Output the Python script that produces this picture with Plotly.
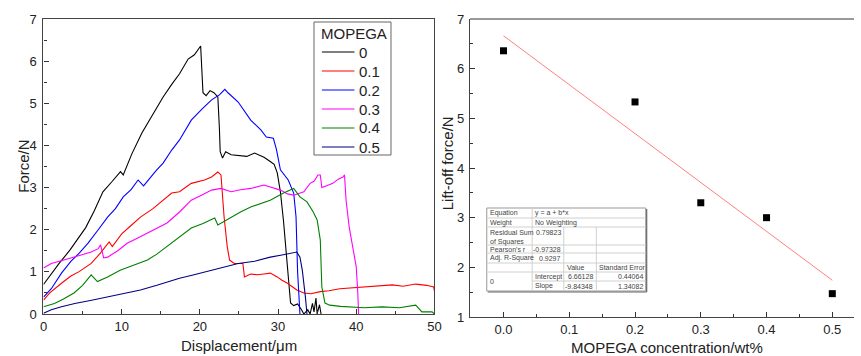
import plotly.graph_objects as go

# ---------------- data ----------------
series_names = ["0", "0.1", "0.2", "0.3", "0.4", "0.5"]
series_colors = ["#000000", "#ff0000", "#0000ff", "#ff00ff", "#008000", "#000080"]
legend_title = "MOPEGA"

x_0 = [0, 1, 2, 3.4, 4.5, 5.4, 6.5, 7.6, 8.8, 9.85, 10.2, 11.3, 12.6, 14, 15.3, 16.4, 17.4, 18.5, 19.3, 20.1,
       20.2, 20.4, 20.8, 21.3, 21.8, 22.3, 22.5, 22.6, 22.9, 23.3, 24, 25, 26, 27, 27.5, 28.2, 29, 29.5, 29.9,
       30.3, 30.7, 31.0, 31.3, 31.6, 32, 32.5, 33, 33.3, 33.8, 34.1, 34.4, 34.6, 34.85, 35.0, 35.3, 35.5]
f_0 = [0.7, 0.95, 1.2, 1.52, 1.8, 2.05, 2.45, 2.9, 3.15, 3.38, 3.3, 3.8, 4.3, 4.75, 5.15, 5.45, 5.7, 6.05, 6.15, 6.36,
       5.9, 5.25, 5.18, 5.3, 5.25, 5.15, 4.4, 3.85, 3.7, 3.85, 3.78, 3.76, 3.74, 3.82, 3.78, 3.72, 3.62, 3.55, 3.35,
       2.9, 2.2, 1.5, 0.8, 0.26, 0.2, 0.24, 0.1, 0.0, 0.1, 0.0, 0.25, 0.05, 0.38, 0.0, 0.22, 0.0]

x_01 = [0, 0.8, 2.3, 3.5, 4.5, 6.1, 7.3, 8.4, 8.8, 10, 11.2, 12.4, 14, 15.8, 16.4, 17.4, 18.9, 20.6, 21.5, 22.3,
        22.7, 23.1, 23.5, 23.8, 24.4, 25.5, 25.7, 26.5, 27.4, 28.2, 29.0, 29.9, 30.5, 31.2, 32.4, 33.3, 34.2, 35.4,
        36.5, 37.9, 39.5, 41.2, 43, 44.6, 46, 47.6, 49, 49.9, 50]
f_01 = [0.33, 0.5, 0.73, 0.9, 1.0, 1.2, 1.45, 1.71, 1.6, 1.9, 2.1, 2.3, 2.5, 2.78, 2.87, 2.9, 3.1, 3.18, 3.25, 3.37,
        3.3, 2.3, 1.6, 1.28, 1.2, 1.2, 0.88, 0.95, 0.93, 0.95, 0.97, 0.88, 0.8, 0.73, 0.57, 0.5, 0.48, 0.53,
        0.55, 0.6, 0.62, 0.64, 0.66, 0.69, 0.66, 0.71, 0.68, 0.64, 0.55]

x_02 = [0, 1, 2.3, 3.5, 4.6, 5.7, 7, 8.2, 9.2, 10.2, 11.2, 12.1, 12.8, 13.5, 14.4, 15.3, 16.4, 17.4, 18.9, 20.2,
        21.5, 22.5, 23.2, 23.6, 24.9, 26.5, 27.8, 28.5, 29.4, 29.8, 30.3, 31.3, 32.0, 32.3, 32.5, 32.8]
f_02 = [0.4, 0.6, 0.97, 1.25, 1.45, 1.68, 2.0, 2.3, 2.5, 2.78, 2.95, 3.18, 3.04, 3.2, 3.4, 3.58, 3.89, 4.13, 4.6, 4.85,
        5.08, 5.2, 5.33, 5.25, 5.03, 4.6, 4.37, 4.2, 4.17, 3.9, 3.42, 3.18, 2.87, 2.3, 1.0, 0.0]

x_03 = [0, 1, 2.6, 4.5, 6.1, 7.0, 7.3, 7.7, 8.2, 9.5, 10.7, 12, 13.3, 14.5, 15.8, 17.4, 18.9, 20.2, 21.5, 22.7,
        24.0, 25.2, 26.5, 28.2, 29.2, 30.3, 31.2, 32.0, 33.3, 34.1, 34.6, 35.1, 35.4, 35.6, 36.3, 37.0, 37.7, 38.3,
        38.5, 38.7, 39.1, 39.6, 40.0, 40.2, 40.3]
f_03 = [1.09, 1.2, 1.28, 1.38, 1.47, 1.55, 1.64, 1.33, 1.35, 1.5, 1.68, 1.8, 1.92, 2.05, 2.16, 2.42, 2.7, 2.82, 2.94, 2.98,
        2.9, 2.95, 2.98, 3.06, 3.0, 2.94, 2.85, 2.82, 2.9, 3.1, 3.15, 3.3, 3.3, 3.0, 3.05, 3.1, 3.2, 3.25,
        3.3, 2.7, 2.06, 1.52, 1.12, 0.5, 0.0]

x_04 = [0, 1.4, 2.5, 3.9, 5.0, 6.1, 6.9, 8.2, 9.8, 11.5, 13.3, 14.5, 15.8, 17.4, 18.9, 20.4, 21.9, 22.3, 24.0, 25.2,
        26.5, 27.8, 29.0, 30.7, 32.0, 32.8, 33.7, 34.5, 35.0, 35.4, 35.6, 36.0, 36.6, 38, 39.1, 41, 43.3, 45.5,
        47.6, 48.4, 49.7, 50]
f_04 = [0.17, 0.25, 0.35, 0.5, 0.68, 0.93, 0.77, 0.88, 1.04, 1.15, 1.28, 1.42, 1.6, 1.83, 2.04, 2.15, 2.28, 2.11, 2.3, 2.42,
        2.54, 2.62, 2.7, 2.87, 2.98, 2.78, 2.66, 2.42, 2.23, 1.76, 0.64, 0.26, 0.21, 0.18, 0.17, 0.15, 0.17, 0.15,
        0.21, 0.05, 0.05, 0.0]

x_05 = [0, 1, 2.3, 4, 6, 8.2, 10.3, 12.4, 14.5, 16.4, 17.4, 19, 20.6, 22.5, 24.9, 27, 29.0, 30.5, 31.6, 32.4,
        32.8, 33.1, 33.5, 33.7]
f_05 = [0.02, 0.1, 0.17, 0.25, 0.32, 0.4, 0.48, 0.57, 0.68, 0.8, 0.85, 0.92, 1.0, 1.08, 1.2, 1.25, 1.35, 1.4, 1.44, 1.47,
        1.35, 1.04, 0.4, 0.0]

curve_x = [x_0, x_01, x_02, x_03, x_04, x_05]
curve_f = [f_0, f_01, f_02, f_03, f_04, f_05]

conc = [0.0, 0.2, 0.3, 0.4, 0.5]
liftoff = [6.36, 5.33, 3.30, 3.00, 1.47]
fit_intercept = 6.66128
fit_slope = -9.84348
fit_x = [0.0, 0.5]

table_rows = [
    ["Equation", "y = a + b*x", "", ""],
    ["Weight", "No Weighting", "", ""],
    ["Residual Sum<br>of Squares", "0.79823", "", ""],
    ["Pearson's r", "-0.97328", "", ""],
    ["Adj. R-Square", "0.9297", "", ""],
    ["", "", "Value", "Standard Error"],
    ["0", "Intercept", "6.66128", "0.44064"],
    ["", "Slope", "-9.84348", "1.34082"],
]

# ---------------- figure ----------------
W, H = 861, 356
ML, MR, MT, MB = 0, 0, 19, 39
PH = H - MT - MB


def px(x):
    return x / W


def py(y):
    return (H - MB - y) / PH


FONT = "Arial, Liberation Sans, sans-serif"
fig = go.Figure()

for name, col, xs, fs in zip(series_names, series_colors, curve_x, curve_f):
    fig.add_trace(go.Scatter(x=xs, y=fs, mode="lines", name=name,
                             line=dict(color=col, width=1.1),
                             xaxis="x", yaxis="y", showlegend=False))

fig.add_trace(go.Scatter(x=conc, y=liftoff, mode="markers", showlegend=False,
                         marker=dict(symbol="square", size=7, color="black"),
                         xaxis="x2", yaxis="y2"))
fig.add_trace(go.Scatter(x=fit_x, y=[fit_intercept + fit_slope * v for v in fit_x],
                         mode="lines", showlegend=False,
                         line=dict(color="#ff8080", width=1),
                         xaxis="x2", yaxis="y2"))

axis_common = dict(showgrid=False, zeroline=False, ticks="inside", ticklen=5,
                   tickcolor="#333", linecolor="#444", linewidth=1.3,
                   tickfont=dict(family=FONT, size=13, color="#222"))


def minor(d):
    return dict(ticks="inside", ticklen=3, dtick=d, tickcolor="#333")


fig.update_layout(
    width=W, height=H,
    margin=dict(l=ML, r=MR, t=MT, b=MB),
    paper_bgcolor="white", plot_bgcolor="white",
    font=dict(family=FONT, color="#222"),
    showlegend=False,
    xaxis=dict(domain=[px(40), px(436)], range=[0, 50], dtick=10, mirror=True,
               showline=True, anchor="y", minor=minor(5), **axis_common),
    yaxis=dict(domain=[py(314), 1], range=[0, 7], dtick=1, mirror=True,
               showline=True, anchor="x", minor=minor(0.5), ticklabelstandoff=3, **axis_common),
    xaxis2=dict(domain=[px(472), 1], range=[-0.051, 0.533], dtick=0.1, tickformat=".1f",
                showline=True, anchor="y2", mirror=False, minor=minor(0.05), **axis_common),
    yaxis2=dict(domain=[0, 1], range=[1, 7], dtick=1, showline=True, anchor="x2", mirror=False,
                minor=minor(0.5), ticklabelstandoff=2, **axis_common),
)

shapes = []
annotations = []


def ann(text, x, y, xa="center", ya="middle", font=None, angle=0):
    return dict(text=text, x=px(x), y=py(y), xref="paper", yref="paper", xanchor=xa, yanchor=ya,
                showarrow=False, font=font, textangle=angle, borderpad=0, align="left")


# top border of right panel
shapes.append(dict(type="line", xref="paper", yref="paper", x0=px(472), x1=1, y0=1, y1=1,
                   line=dict(color="#777", width=1.3)))

# axis titles
tf = dict(family=FONT, size=15, color="#222")
annotations += [
    ann("Displacement/μm", 238, 345, font=tf),
    ann("MOPEGA concentration/wt%", 672, 347, font=tf),
    ann("Force/N", 19, 166, font=tf, angle=-90),
    ann("Lift-off force/N", 449, 163, font=tf, angle=-90),
]

# manual legend
shapes.append(dict(type="rect", xref="paper", yref="paper", x0=px(314), x1=px(392), y0=py(155), y1=py(22),
                   fillcolor="white", line=dict(color="#666", width=1)))
annotations.append(ann(legend_title, 320, 33, xa="left", font=tf))
for i, (name, col) in enumerate(zip(series_names, series_colors)):
    yy = 52 + 19 * i
    shapes.append(dict(type="line", xref="paper", yref="paper", x0=px(322), x1=px(355), y0=py(yy), y1=py(yy),
                       line=dict(color=col, width=1.1)))
    annotations.append(ann(name, 359, yy, xa="left", font=tf))

# fit table
cols = [489, 535, 567, 600, 650]
rows = [208, 218, 227, 245, 253, 263, 272, 281, 291]
shapes.append(dict(type="rect", xref="paper", yref="paper", x0=px(cols[0]), x1=px(cols[-1]),
                   y0=py(rows[-1]), y1=py(rows[0]), fillcolor="white", line=dict(color="#999", width=1)))
for i in range(1, len(rows) - 1):
    x0 = cols[1] if i == 7 else cols[0]
    shapes.append(dict(type="line", xref="paper", yref="paper", x0=px(x0), x1=px(cols[-1]),
                       y0=py(rows[i]), y1=py(rows[i]), line=dict(color="#d0d0d0", width=1)))
shapes.append(dict(type="line", xref="paper", yref="paper", x0=px(cols[1]), x1=px(cols[1]),
                   y0=py(rows[-1]), y1=py(rows[0]), line=dict(color="#d0d0d0", width=1)))
for c in cols[2:4]:
    shapes.append(dict(type="line", xref="paper", yref="paper", x0=px(c), x1=px(c),
                       y0=py(rows[-1]), y1=py(rows[2]), line=dict(color="#d0d0d0", width=1)))
shapes.append(dict(type="line", xref="paper", yref="paper", x0=px(cols[0] + 1), x1=px(cols[-1] + 1),
                   y0=py(rows[-1] + 1), y1=py(rows[-1] + 1), line=dict(color="#666", width=1.2)))
shapes.append(dict(type="line", xref="paper", yref="paper", x0=px(cols[-1] + 1), x1=px(cols[-1] + 1),
                   y0=py(rows[-1] + 1), y1=py(rows[0] + 1), line=dict(color="#666", width=1.2)))

tfont = dict(family=FONT, size=7, color="#444")
for r, row in enumerate(table_rows):
    for c, txt in enumerate(row):
        if not txt:
            continue
        ya = "middle"
        y_use = (rows[r] + rows[r + 1]) / 2
        if r == 6 and c == 0:
            y_use = (rows[6] + rows[8]) / 2
        if r == 2:
            ya = "top"
            y_use = rows[r] + 1
        numeric = (c == 1 and r in (2, 3, 4)) or (c >= 2 and r >= 6)
        if numeric:
            annotations.append(ann(txt, cols[c + 1] - 2, y_use, xa="right", ya=ya, font=tfont))
        else:
            annotations.append(ann(txt, cols[c] + 2, y_use, xa="left", ya=ya, font=tfont))

fig.update_layout(shapes=shapes, annotations=annotations)
fig.write_html("out.html", config={"displayModeBar": False},
               post_script="document.body.style.margin='0';document.body.style.overflow='hidden';")
